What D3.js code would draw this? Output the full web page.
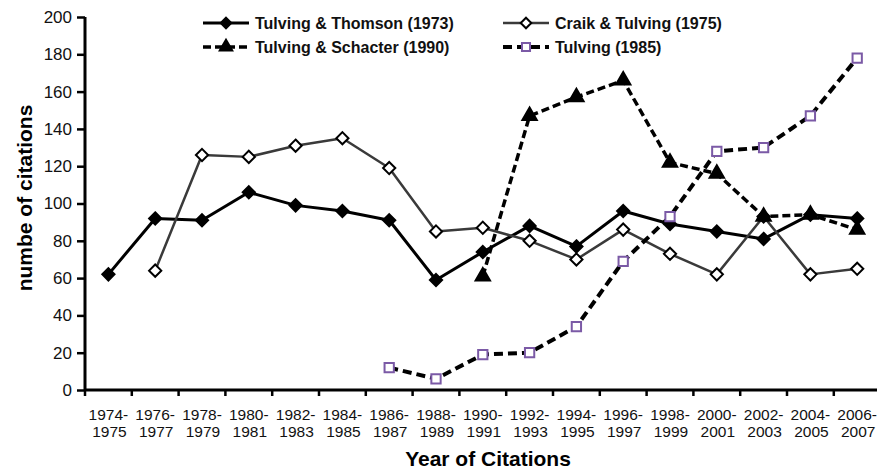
<!DOCTYPE html>
<html>
<head>
<meta charset="utf-8">
<script src="https://cdn.jsdelivr.net/npm/d3@7"></script>
<style>
  body { margin: 0; background: #fff; }
  svg { display: block; font-family: "Liberation Sans", Arial, sans-serif; }
</style>
</head>
<body>
<div id="app"></div>
<script>
const periods = ["1974-1975", "1976-1977", "1978-1979", "1980-1981", "1982-1983", "1984-1985",
  "1986-1987", "1988-1989", "1990-1991", "1992-1993", "1994-1995", "1996-1997",
  "1998-1999", "2000-2001", "2002-2003", "2004-2005", "2006-2007"];

// null = no citations counted yet (paper not out)
const thomson1973 = [62, 92, 91, 106, 99, 96, 91, 59, 74, 88, 77, 96, 89, 85, 81, 94, 92];
const craik1975 = [null, 64, 126, 125, 131, 135, 119, 85, 87, 80, 70, 86, 73, 62, 93, 62, 65];
const schacter1990 = [null, null, null, null, null, null, null, null, 61, 147, 157, 166, 122, 116, 93, 94, 86];
const tulving1985 = [null, null, null, null, null, null, 12, 6, 19, 20, 34, 69, 93, 128, 130, 147, 178];

const yTicks = [0, 20, 40, 60, 80, 100, 120, 140, 160, 180, 200];

const width = 877, height = 470;
const margin = { left: 85, top: 17, bottom: 80 };

const series = [
  { name: "Tulving & Thomson (1973)", values: thomson1973, stroke: "#000", sw: 3, dash: null,
    marker: "diamond", fill: "#000", mstroke: "#000" },
  { name: "Craik & Tulving (1975)", values: craik1975, stroke: "#3a3a3a", sw: 2.5, dash: null,
    marker: "diamond", fill: "#fff", mstroke: "#000" },
  { name: "Tulving & Schacter (1990)", values: schacter1990, stroke: "#000", sw: 3.5, dash: "8,4",
    marker: "triangle", fill: "#000", mstroke: "#000" },
  { name: "Tulving (1985)", values: tulving1985, stroke: "#000", sw: 4, dash: "9,5",
    marker: "square", fill: "#fff", mstroke: "#7b5aa6" }
];

const svg = d3.select("#app").append("svg")
  .attr("width", width)
  .attr("height", height);

const x = d3.scaleBand()
  .domain(periods)
  .range([margin.left, margin.left + 46.8 * periods.length])
  .padding(0);

const y = d3.scaleLinear()
  .domain([0, 200])
  .range([height - margin.bottom, margin.top]);

// y axis
const yAxis = svg.append("g")
  .attr("transform", `translate(${margin.left},0)`)
  .call(d3.axisLeft(y).tickValues(yTicks).tickSize(8).tickPadding(5));
yAxis.select(".domain").attr("stroke-width", 3).attr("d", `M0,${y(200)}V${y(0)}`);
yAxis.selectAll(".tick line").attr("stroke-width", 2.5);
yAxis.selectAll(".tick text").style("font-size", "17px").attr("fill", "#111");

// x axis: ticks at band edges
const xAxis = svg.append("g")
  .attr("transform", `translate(0,${y(0)})`);
xAxis.append("line")
  .attr("x1", margin.left).attr("x2", width)
  .attr("stroke", "#000").attr("stroke-width", 3);
xAxis.selectAll(".xtick")
  .data(periods)
  .join("line")
  .attr("class", "xtick")
  .attr("x1", d => x(d)).attr("x2", d => x(d))
  .attr("y1", 0).attr("y2", 6)
  .attr("stroke", "#000").attr("stroke-width", 2.5);
const xl = xAxis.selectAll(".xlabel")
  .data(periods)
  .join("text")
  .attr("class", "xlabel")
  .attr("text-anchor", "middle")
  .style("font-size", "15.5px")
  .attr("fill", "#111");
xl.append("tspan")
  .attr("x", d => x(d) + x.bandwidth() / 2)
  .attr("y", 30)
  .text(d => d.split("-")[0] + "-");
xl.append("tspan")
  .attr("x", d => x(d) + x.bandwidth() / 2 + 1)
  .attr("y", 47)
  .text(d => d.split("-")[1]);

// axis titles
svg.append("text")
  .attr("x", 488).attr("y", 466)
  .attr("text-anchor", "middle")
  .style("font-size", "21px").style("font-weight", "bold")
  .text("Year of Citations");

svg.append("text")
  .attr("transform", `translate(32,198) rotate(-90)`)
  .attr("text-anchor", "middle")
  .style("font-size", "21px").style("font-weight", "bold")
  .text("numbe of citations");

const symbolFor = m => m === "diamond" ? d3.symbolDiamond2
  : m === "triangle" ? d3.symbolTriangle : d3.symbolSquare2;
const sizeFor = m => m === "diamond" ? 95 : m === "triangle" ? 90 : 110;

const cx = i => x(periods[i]) + x.bandwidth() / 2;

const line = d3.line()
  .defined(d => d.v !== null)
  .x(d => cx(d.i))
  .y(d => y(d.v));

const plot = svg.append("g");

series.forEach(s => {
  const pts = s.values.map((v, i) => ({ v, i }));
  plot.append("path")
    .datum(pts)
    .attr("d", line)
    .attr("fill", "none")
    .attr("stroke", s.stroke)
    .attr("stroke-width", s.sw)
    .attr("stroke-dasharray", s.dash)
    .attr("stroke-linejoin", "round");
  plot.append("g")
    .selectAll("path")
    .data(pts.filter(d => d.v !== null))
    .join("path")
    .attr("transform", d => `translate(${cx(d.i)},${y(d.v)})`)
    .attr("d", d3.symbol(symbolFor(s.marker), sizeFor(s.marker)))
    .attr("fill", s.fill)
    .attr("stroke", s.mstroke)
    .attr("stroke-width", 2);
});

// legend
const legendPos = [
  { x: 203, y: 23 }, { x: 503, y: 23 }, { x: 203, y: 47 }, { x: 503, y: 47 }
];
const legend = svg.append("g");
series.forEach((s, k) => {
  const p = legendPos[k];
  const g = legend.append("g").attr("transform", `translate(${p.x},${p.y})`);
  g.append("line")
    .attr("x1", 0).attr("x2", 46)
    .attr("stroke", s.stroke)
    .attr("stroke-width", s.sw)
    .attr("stroke-dasharray", s.dash);
  g.append("path")
    .attr("transform", "translate(23,0)")
    .attr("d", d3.symbol(symbolFor(s.marker), sizeFor(s.marker) * 0.75))
    .attr("fill", s.fill)
    .attr("stroke", s.mstroke)
    .attr("stroke-width", 2);
  g.append("text")
    .attr("x", 52).attr("y", 6)
    .style("font-size", "16px").style("font-weight", "bold")
    .attr("fill", "#111")
    .text(s.name);
});
</script>
</body>
</html>
